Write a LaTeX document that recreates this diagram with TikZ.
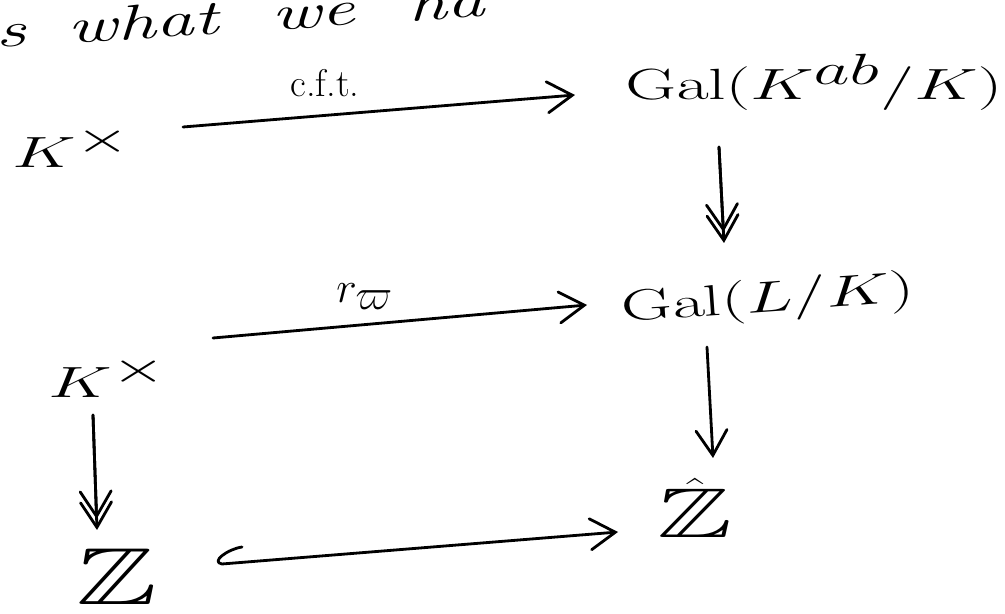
\documentclass[tikz,border=0pt]{standalone}
\usepackage{amsmath,amssymb}
\usetikzlibrary{arrows.meta,calc}
\newcommand{\hw}[2][1.6]{\scalebox{#1}[1]{#2}}
\begin{document}
\begin{tikzpicture}[x=0.02cm,y=-0.02cm,
  obj/.style={inner sep=0pt, anchor=base west, font=\fontsize{40}{48}\selectfont},
  lbl/.style={inner sep=0pt, anchor=base west},
  arr/.style={line width=1.6pt, line cap=round, line join=round,
    -{Straight Barb[length=0.5cm,width=0.62cm,line cap=round]}},
  darr/.style={arr, postaction={draw, line width=1.6pt, line cap=round,
    -{Straight Barb[length=0.5cm,width=0.62cm,line cap=round]}, shorten >=0.22cm}}
]
\fill[white] (0,0) rectangle (1005,614);
\useasboundingbox (0,0) rectangle (1005,614);
\clip (0,0) rectangle (1005,614);

% partial line of text at the top
\node[lbl, rotate=3.7] (top) at (-4,48)
  {\hw[1.55]{\fontsize{28}{34}\selectfont\itshape s\hspace{0.55em}what\hspace{0.7em}we\hspace{0.7em}ha}};

% objects
\node[obj] (k1) at (12,168) {\hw{$K^{\times}$}};
\node[obj] (g1) at (625,100) {\hw{$\mathrm{Gal}(K^{ab}/K)$}};
\node[obj] (k2) at (48,398) {\hw{$K^{\times}$}};
\node[obj, rotate=4] (g2) at (622,322) {\hw{$\mathrm{Gal}(L/K)$}};
\node[obj, font=\fontsize{46}{54}\selectfont] (z) at (76,605) {\hw[1.5]{$\mathbb{Z}$}};
\node[obj] (zh) at (657,538) {\hw{$\hat{\mathbb{Z}}$}};

% labels
\node[lbl, font=\fontsize{22}{26}\selectfont] (cft) at (290,97) {c.f.t.};
\node[lbl, font=\fontsize{34}{40}\selectfont] (rpi) at (336,303) {$r_{\varpi}$};

% arrows
\draw[arr] ($(k1.base west)+(171,-41)$) -- ($(g1.base west)+(-50,-5)$);
\draw[arr] ($(k2.base west)+(165,-60)$) -- ($(g2.base west)+(-35,-17)$);
\draw[darr] ($(g1.base west)+(94,47)$) -- ($(g2.base west)+(102,-79)$);
\draw[arr] ($(g2.base west)+(85,25)$) -- ($(zh.base west)+(56,-80)$);
\draw[darr] ($(k2.base west)+(45,17)$) -- ($(z.base west)+(21,-75)$);
\draw[arr] ($(z.base west)+(166,-58)$) .. controls +(-14,2) and +(-12,-2) ..
  ($(z.base west)+(146,-41)$) -- ($(zh.base west)+(-39,-6)$);
\end{tikzpicture}
\end{document}
